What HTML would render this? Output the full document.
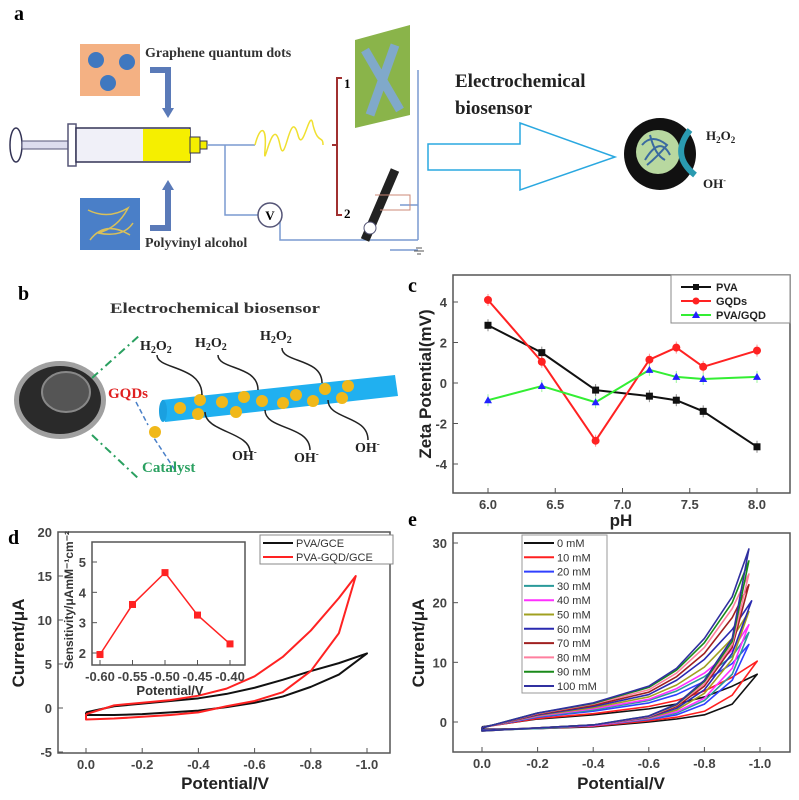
<!DOCTYPE html>
<html><head><meta charset="utf-8"><style>
body{margin:0;background:#fff}
svg{display:block}
text{font-family:"Liberation Sans",sans-serif}
text.serif,.serif text{font-family:"Liberation Serif",serif;font-weight:bold}
.tick{font-size:13px;font-weight:bold;fill:#444}
.ttl{font-size:17px;font-weight:bold;fill:#222}
</style></head><body>
<svg id="fig" width="799" height="800" viewBox="0 0 799 800" xmlns="http://www.w3.org/2000/svg">
<!-- Panel a -->
<g>
<text x="14" y="20" class="serif" font-size="20">a</text>
<rect x="80" y="44" width="60" height="52" fill="#f4b183"/>
<circle cx="96" cy="60" r="8" fill="#3f78c0"/><circle cx="127" cy="62" r="8" fill="#3f78c0"/><circle cx="108" cy="83" r="8" fill="#3f78c0"/>
<text x="145" y="57" class="serif" font-size="14" fill="#333">Graphene quantum dots</text>
<rect x="80" y="198" width="60" height="52" fill="#4a7fc8"/>
<path d="M88,210 q20,10 40,-2 q-10,20 -30,25 q25,5 35,-10 M90,240 q15,-20 40,-5" stroke="#d8c05a" fill="none" stroke-width="1.5"/>
<text x="145" y="247" class="serif" font-size="14" fill="#333">Polyvinyl alcohol</text>
<path d="M150,70 h18 v40" stroke="#5a7ab8" stroke-width="6" fill="none"/><path d="M162,108 l6,10 l6,-10z" fill="#5a7ab8"/>
<path d="M150,228 h18 v-40" stroke="#5a7ab8" stroke-width="6" fill="none"/><path d="M162,190 l6,-10 l6,10z" fill="#5a7ab8"/>
<g>
<ellipse cx="16" cy="145" rx="6" ry="17" fill="none" stroke="#335" stroke-width="1.5"/>
<rect x="22" y="141" width="50" height="8" fill="#dde" stroke="#557"/>
<rect x="68" y="124" width="8" height="42" fill="#fff" stroke="#557" stroke-width="1.5"/>
<rect x="76" y="128" width="114" height="34" fill="#f0f0f8" stroke="#335" stroke-width="1.5"/>
<rect x="143" y="129" width="47" height="32" fill="#f5ef00"/>
<rect x="190" y="137" width="10" height="16" fill="#f5ef00" stroke="#335"/>
<rect x="200" y="141" width="7" height="8" fill="#f5ef00" stroke="#335"/>
</g>
<path d="M207,145 H255 M225,145 V215 H260 M280,215 V240 H418 M418,70 V240 M400,205 H418 M390,250 H418" stroke="#7a9ad0" stroke-width="1.5" fill="none"/>
<circle cx="270" cy="215" r="12" fill="#fff" stroke="#557" stroke-width="1.5"/>
<text x="270" y="220" text-anchor="middle" class="serif" font-size="13">V</text>
<path d="M255,145 c5,-20 12,-20 10,5 c-2,25 8,-40 15,-5 c5,25 10,-40 18,-10 c5,20 12,-30 15,-10 c5,20 10,10 10,20" stroke="#f0e030" stroke-width="1.5" fill="none"/>
<path d="M342,78 h-5 v137 h5 M337,145 h-5" stroke="#a03030" stroke-width="2" fill="none"/>
<text x="344" y="88" class="serif" font-size="13">1</text><text x="344" y="218" class="serif" font-size="13">2</text>
<polygon points="355,40 410,25 410,115 355,128" fill="#8ab44a"/>
<path d="M365,50 L400,110 M395,45 L370,115" stroke="#7fa8d8" stroke-width="9" opacity=".9"/>
<path d="M365,240 L395,170" stroke="#222" stroke-width="9"/>
<circle cx="370" cy="228" r="6" fill="#fff" stroke="#557"/>
<path d="M375,195 H410 V210 H380" stroke="#c87" fill="none"/>
<path d="M416,248 h6 M414,251 h10 M417,254 h4" stroke="#555"/>
<text x="455" y="87" class="serif" font-size="19" fill="#222">Electrochemical</text>
<text x="455" y="114" class="serif" font-size="19" fill="#222">biosensor</text>
<polygon points="428,144 520,144 520,123 615,157 520,190 520,170 428,170" fill="none" stroke="#2aa8e0" stroke-width="1.5"/>
<circle cx="660" cy="154" r="36" fill="#111"/>
<circle cx="658" cy="152" r="22" fill="#b8d8a0"/>
<path d="M642,145 q10,-12 25,0 q-10,12 -20,20 M645,160 q15,-25 25,-5 M650,135 q5,20 15,25" stroke="#3a6aa0" stroke-width="2" fill="none"/>
<path d="M690,130 q-20,25 5,45" stroke="#2a9ab0" stroke-width="6" fill="none"/>
<text x="706" y="140" class="serif" font-size="13" fill="#222">H<tspan font-size="9" dy="3">2</tspan><tspan dy="-3">O</tspan><tspan font-size="9" dy="3">2</tspan></text>
<text x="703" y="188" class="serif" font-size="13" fill="#222">OH<tspan font-size="8" dy="-5">-</tspan></text>
</g>
<!-- Panel b -->
<g>
<text x="18" y="300" class="serif" font-size="20">b</text>
<text x="110" y="313" class="serif" font-size="15" fill="#333" textLength="210" lengthAdjust="spacingAndGlyphs">Electrochemical biosensor</text>
<ellipse cx="60" cy="400" rx="46" ry="39" fill="#a0a0a0"/>
<ellipse cx="60" cy="400" rx="41" ry="34" fill="#2a2a2a"/>
<ellipse cx="66" cy="392" rx="24" ry="20" fill="#555" stroke="#888" stroke-width="2"/>
<path d="M92,378 L140,335 M92,435 L140,480" stroke="#2aa060" stroke-width="2" stroke-dasharray="8,4,2,4" fill="none"/>
<path d="M136,402 L148,425 M150,432 L175,470" stroke="#4a80c8" stroke-width="1.5" stroke-dasharray="5,3" fill="none"/>
<polygon points="162,400 395,375 398,396 165,422" fill="#20b0f0"/>
<ellipse cx="163" cy="411" rx="4" ry="11" fill="#1aa0e0"/>
<g fill="#f0b81a"><circle cx="180" cy="408" r="6"/><circle cx="200" cy="400" r="6"/><circle cx="198" cy="414" r="6"/><circle cx="222" cy="402" r="6"/><circle cx="236" cy="412" r="6"/><circle cx="244" cy="397" r="6"/><circle cx="262" cy="401" r="6"/><circle cx="283" cy="403" r="6"/><circle cx="296" cy="395" r="6"/><circle cx="313" cy="401" r="6"/><circle cx="325" cy="389" r="6"/><circle cx="342" cy="398" r="6"/><circle cx="348" cy="386" r="6"/><circle cx="155" cy="432" r="6"/></g>
<text x="108" y="398" class="serif" font-size="15" fill="#e02020">GQDs</text>
<text x="142" y="472" class="serif" font-size="15" fill="#2aa060">Catalyst</text>
<g class="serif" font-size="14" fill="#222">
<text x="140" y="350">H<tspan font-size="10" dy="3">2</tspan><tspan dy="-3">O</tspan><tspan font-size="10" dy="3">2</tspan></text>
<text x="195" y="347">H<tspan font-size="10" dy="3">2</tspan><tspan dy="-3">O</tspan><tspan font-size="10" dy="3">2</tspan></text>
<text x="260" y="340">H<tspan font-size="10" dy="3">2</tspan><tspan dy="-3">O</tspan><tspan font-size="10" dy="3">2</tspan></text>
<text x="232" y="460">OH<tspan font-size="9" dy="-5">-</tspan></text>
<text x="294" y="462">OH<tspan font-size="9" dy="-5">-</tspan></text>
<text x="355" y="452">OH<tspan font-size="9" dy="-5">-</tspan></text>
</g>
<path d="M157,355 c0,15 45,10 45,40 M218,355 c0,15 40,10 40,35 M282,348 c0,15 40,10 40,35 M205,412 c0,20 45,20 45,40 M265,410 c0,20 45,15 45,40 M328,400 c0,20 40,15 40,40" stroke="#222" stroke-width="1.5" fill="none"/>
</g>
<g id="panel-c"></g>
<g id="panel-d"></g>
<g id="panel-e"></g>
</svg>
<script>
// ---- Panel c data ----
const cPH=[6.0,6.4,6.8,7.2,7.4,7.6,8.0];
const cPVA=[2.85,1.5,-0.35,-0.65,-0.85,-1.4,-3.15];
const cGQD=[4.1,1.05,-2.85,1.15,1.75,0.8,1.6];
const cPVAGQD=[-0.85,-0.15,-0.95,0.65,0.3,0.2,0.3];
const cXTicks=[6.0,6.5,7.0,7.5,8.0];
const cYTicks=[-4,-2,0,2,4];
// ---- Panel d data ----
const dPot=[0,-0.1,-0.2,-0.3,-0.4,-0.5,-0.6,-0.7,-0.8,-0.9];
const dPVAUp=[-0.5,0.2,0.5,0.8,1.1,1.6,2.3,3.2,4.2,5.1];
const dPVALow=[-0.8,-0.8,-0.7,-0.5,-0.3,0.1,0.6,1.3,2.4,3.8];
const dPVATip=[-1.0,6.2];
const dGQDUp=[-0.7,0.3,0.6,0.9,1.4,2.2,3.6,5.8,8.8,12.5];
const dGQDLow=[-1.3,-1.2,-1.0,-0.8,-0.5,0.2,0.8,1.8,4.2,8.5];
const dGQDTip=[-0.96,15];
const dXTicks=[0,-0.2,-0.4,-0.6,-0.8,-1.0];
const dYTicks=[-5,0,5,10,15,20];
const insPot=[-0.60,-0.55,-0.50,-0.45,-0.40];
const insSens=[1.95,3.6,4.65,3.25,2.3];
const insYTicks=[2,3,4,5];
// ---- Panel e data ----
const ePot=[0,-0.2,-0.4,-0.6,-0.7,-0.8,-0.9];
const eLabels=['0 mM','10 mM','20 mM','30 mM','40 mM','50 mM','60 mM','70 mM','80 mM','90 mM','100 mM'];
const eColors=['#111','#ff2020','#3040ff','#2a9a9a','#ff30ff','#a0a020','#2a2ab0','#a02020','#ff7f9f','#1a8a1a','#3030a0'];
const eUp=[[-0.8,0.5,1.2,2.2,3,4.2,6],[-0.9,0.6,1.4,2.6,3.6,5.2,7.5],[-0.9,0.8,1.8,3.2,4.6,6.8,9.8],[-0.9,0.9,2.0,3.6,5.2,7.6,11],[-0.9,1.0,2.2,3.8,5.6,8.2,12],[-0.9,1.1,2.4,4.2,6.2,9.2,14],[-0.9,1.2,2.6,4.6,7,10.5,15.5],[-1,1.3,2.8,5,7.6,11.5,17.5],[-1,1.4,3,5.4,8.2,12.5,19],[-1,1.5,3.1,5.8,8.7,13.3,20],[-1,1.5,3.2,6,9,14,21]];
const eLow=[[-1.2,-1.1,-0.8,0,0.5,1.2,3],[-1.3,-1.1,-0.7,0.2,0.8,1.8,4.5],[-1.3,-1.1,-0.6,0.4,1.2,3,7],[-1.4,-1.1,-0.6,0.5,1.5,3.6,8],[-1.4,-1.0,-0.6,0.6,1.7,4,9],[-1.4,-1.0,-0.5,0.7,2,4.8,10.5],[-1.4,-1.0,-0.5,0.8,2.3,5.4,11.5],[-1.5,-1.0,-0.5,0.9,2.6,6,12.5],[-1.5,-1.0,-0.5,0.9,2.8,6.4,13],[-1.5,-1.0,-0.5,1,2.9,6.8,13.5],[-1.5,-1,-0.5,1,3,7,14]];
const eTipX=[-0.99,-0.99,-0.96,-0.96,-0.96,-0.96,-0.97,-0.96,-0.96,-0.96,-0.96];
const eTipY=[8,10.2,13,15,16.3,18.5,20.3,23,24.8,27,29];
const eXTicks=[0,-0.2,-0.4,-0.6,-0.8,-1.0];
const eYTicks=[0,10,20,30];

const NS='http://www.w3.org/2000/svg';
function mk(parent,tag,attrs){const e=document.createElementNS(NS,tag);for(const k in attrs)e.setAttribute(k,attrs[k]);parent.appendChild(e);return e;}
function lin(d0,d1,r0,r1){return v=>r0+(v-d0)*(r1-r0)/(d1-d0);}
function fmt(v,n){return v.toFixed(n);}
function frame(g,L,T,R,B,sx,sy,xt,yt,xd,yd,fs){
  const r=mk(g,'rect',{x:L,y:T,width:R-L,height:B-T,fill:'none',stroke:'#555','stroke-width':1.5});
  
  
  xt.forEach(v=>{const x=sx(v);mk(g,'line',{x1:x,x2:x,y1:B,y2:B-5,stroke:'#555'});
    const t=mk(g,'text',{x:x,y:B+16,'text-anchor':'middle',class:'tick','font-size':fs});t.textContent=fmt(v,xd);
    
    });
  yt.forEach(v=>{const y=sy(v);mk(g,'line',{x1:L,x2:L+5,y1:y,y2:y,stroke:'#555'});
    const t=mk(g,'text',{x:L-6,y:y+5,'text-anchor':'end',class:'tick','font-size':fs});t.textContent=fmt(v,yd);
    
    });
}
function poly(g,pts,color,w,name){const p=mk(g,'polyline',{points:pts.map(p=>p.join(',')).join(' '),fill:'none',stroke:color,'stroke-width':w,'stroke-linejoin':'round'});
  
  return p;}
function loop(g,sx,sy,pot,up,low,tx,ty,color,w,name){
  const pts=[];pot.forEach((p,i)=>pts.push([sx(p),sy(up[i])]));pts.push([sx(tx),sy(ty)]);
  for(let i=pot.length-1;i>=0;i--)pts.push([sx(pot[i]),sy(low[i])]);pts.push(pts[0]);
  poly(g,pts,color,w,name);}

// ---- Panel C ----
(function(){
const g=document.getElementById('panel-c');
const L=453,R=790,T=275,B=493;
const sx=lin(6,8,488,757), sy=lin(0,4,383,302);
frame(g,L,T,R,B,sx,sy,cXTicks,cYTicks,1,0,14);
const lab=mk(g,'text',{x:408,y:292,class:'serif','font-size':20});lab.textContent='c';

const yl=mk(g,'text',{x:0,y:0,class:'ttl',transform:'translate(431,384) rotate(-90)','text-anchor':'middle'});yl.textContent='Zeta Potential(mV)';

const xl=mk(g,'text',{x:621,y:526,class:'ttl','text-anchor':'middle'});xl.textContent='pH';

const series=[[cPVA,'#111','square','PVA'],[cGQD,'#f22','circle','GQDs'],[cPVAGQD,'#3e3','triangle','PVA/GQD']];
series.forEach(([vals,col,shape,name])=>{
  poly(g,cPH.map((p,i)=>[sx(p),sy(vals[i])]),col,2,'series-'+name.toLowerCase().replace('/','-'));
  cPH.forEach((p,i)=>{const x=sx(p),y=sy(vals[i]);
    mk(g,'line',{x1:x,x2:x,y1:y-6,y2:y+6,stroke:col,'stroke-width':1,opacity:.5});
    let m;
    if(shape==='square')m=mk(g,'rect',{x:x-3.5,y:y-3.5,width:7,height:7,fill:col});
    else if(shape==='circle')m=mk(g,'circle',{cx:x,cy:y,r:4,fill:col});
    else m=mk(g,'polygon',{points:`${x},${y-4} ${x-4},${y+3} ${x+4},${y+3}`,fill:'#22f'});
    
    });
});
const lg=mk(g,'g',{});
mk(lg,'rect',{x:671,y:275,width:119,height:48,fill:'#fff',stroke:'#888'});
series.forEach(([v,col,shape,name],i)=>{const y=287+i*14;
  mk(lg,'line',{x1:681,x2:711,y1:y,y2:y,stroke:col,'stroke-width':2});
  if(shape==='square')mk(lg,'rect',{x:693,y:y-3,width:6,height:6,fill:col});
  else if(shape==='circle')mk(lg,'circle',{cx:696,cy:y,r:3.5,fill:col});
  else mk(lg,'polygon',{points:`696,${y-4} 692,${y+3} 700,${y+3}`,fill:'#22f'});
  const t=mk(lg,'text',{x:716,y:y+4,'font-size':11,'font-weight':'bold',fill:'#222'});t.textContent=name;
  });
})();

// ---- Panel D ----
(function(){
const g=document.getElementById('panel-d');
const L=58,R=390,T=532,B=753;
const sx=lin(0,-1,86,367), sy=lin(0,20,708,532);
frame(g,L,T,R,B,sx,sy,dXTicks,dYTicks,1,0,14);
const lab=mk(g,'text',{x:8,y:544,class:'serif','font-size':20});lab.textContent='d';

const yl=mk(g,'text',{x:0,y:0,class:'ttl',transform:'translate(24,643) rotate(-90)','text-anchor':'middle'});yl.textContent='Current/μA';

const xl=mk(g,'text',{x:225,y:789,class:'ttl','text-anchor':'middle'});xl.textContent='Potential/V';

loop(g,sx,sy,dPot,dPVAUp,dPVALow,dPVATip[0],dPVATip[1],'#111',2,'cv-pva-gce');
loop(g,sx,sy,dPot,dGQDUp,dGQDLow,dGQDTip[0],dGQDTip[1],'#f22',2,'cv-pva-gqd-gce');
const lg=mk(g,'g',{});
mk(lg,'rect',{x:260,y:535,width:133,height:29,fill:'#fff',stroke:'#888'});
[['PVA/GCE','#111'],['PVA-GQD/GCE','#f22']].forEach(([n,c],i)=>{const y=543+i*14;
  mk(lg,'line',{x1:263,x2:293,y1:y,y2:y,stroke:c,'stroke-width':2});
  const t=mk(lg,'text',{x:296,y:y+4,'font-size':11,fill:'#333'});t.textContent=n;
  });
// inset
const ig=mk(g,'g',{});
const iL=92,iR=245,iT=542,iB=665;
const ix=lin(-0.6,-0.4,100,230), iy=lin(2,5,653,562);
mk(ig,'rect',{x:iL,y:iT,width:iR-iL,height:iB-iT,fill:'#fff'});
frame(ig,iL,iT,iR,iB,ix,iy,insPot,insYTicks,2,0,11);
const iyl=mk(ig,'text',{x:0,y:0,'font-size':12,'font-weight':'bold',fill:'#333',transform:'translate(73,600) rotate(-90)','text-anchor':'middle'});iyl.textContent='Sensitivity/μAmM⁻¹cm⁻²';

const ixl=mk(ig,'text',{x:170,y:695,'font-size':13,'font-weight':'bold',fill:'#333','text-anchor':'middle'});ixl.textContent='Potential/V';

poly(ig,insPot.map((p,i)=>[ix(p),iy(insSens[i])]),'#f22',1.5,'inset-line');
insPot.forEach((p,i)=>{const m=mk(ig,'rect',{x:ix(p)-3.5,y:iy(insSens[i])-3.5,width:7,height:7,fill:'#f22'});
  });
})();

// ---- Panel E ----
(function(){
const g=document.getElementById('panel-e');
const L=453,R=790,T=533,B=752;
const sx=lin(0,-1,482,760), sy=lin(0,30,722,543);
frame(g,L,T,R,B,sx,sy,eXTicks,eYTicks,1,0,14);
const lab=mk(g,'text',{x:408,y:526,class:'serif','font-size':20});lab.textContent='e';

const yl=mk(g,'text',{x:0,y:0,class:'ttl',transform:'translate(424,643) rotate(-90)','text-anchor':'middle'});yl.textContent='Current/μA';

const xl=mk(g,'text',{x:621,y:789,class:'ttl','text-anchor':'middle'});xl.textContent='Potential/V';

eLabels.forEach((n,i)=>loop(g,sx,sy,ePot,eUp[i],eLow[i],eTipX[i],eTipY[i],eColors[i],1.6,'cv-'+n.replace(' ','-').toLowerCase()));
const lg=mk(g,'g',{});
mk(lg,'rect',{x:522,y:535,width:85,height:158,fill:'#fff',stroke:'#999'});
eLabels.forEach((n,i)=>{const y=543+i*14.3;
  mk(lg,'line',{x1:524,x2:554,y1:y,y2:y,stroke:eColors[i],'stroke-width':2});
  const t=mk(lg,'text',{x:557,y:y+4,'font-size':11,fill:'#333'});t.textContent=n;
  });
})();
</script>
</body></html>
